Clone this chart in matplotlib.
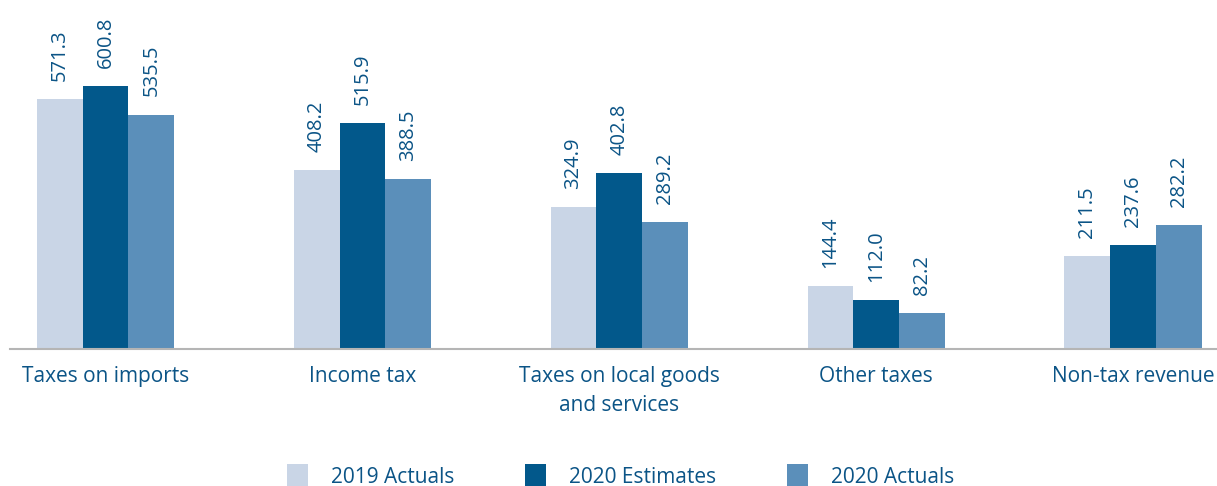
import numpy as np
from matplotlib import pyplot as plt
from matplotlib.patches import Patch

# Data
categories = ['Taxes on imports', 'Income tax', 'Taxes on local goods\nand services',
              'Other taxes', 'Non-tax revenue']
actuals_2019 = [571.3, 408.2, 324.9, 144.4, 211.5]
estimates_2020 = [600.8, 515.9, 402.8, 112.0, 237.6]
actuals_2020 = [535.5, 388.5, 289.2, 82.2, 282.2]
series_names = ['2019 Actuals', '2020 Estimates', '2020 Actuals']

colors = ['#c9d5e6', '#02588b', '#5b8fba']
text_col = '#0b5486'

plt.rcParams['font.family'] = ['Open Sans', 'DejaVu Sans']

fig = plt.figure(figsize=(12.17, 4.86), dpi=100)
ax = fig.add_axes([10/1217, 137/486, 1207/1217, 349/486])

x = np.arange(len(categories))
w = 0.178
series = [actuals_2019, estimates_2020, actuals_2020]
for i, vals in enumerate(series):
    pos = x + (i - 1) * w
    ax.bar(pos, vals, width=w, color=colors[i], zorder=2)
    for p, v in zip(pos, vals):
        ax.annotate('%.1f' % v, (p, v), xytext=(0, 13), textcoords='offset points',
                    rotation=90, ha='center', va='bottom', fontsize=14.5,
                    color=text_col)

ax.set_xlim(-0.372, len(categories) - 1 + 0.327)
ax.set_ylim(0, 797)
ax.set_xticks(x)
ax.set_xticklabels(categories, fontsize=15, color=text_col, linespacing=1.55)
ax.tick_params(axis='x', length=0, pad=12)
ax.set_yticks([])
for s in ['top', 'right', 'left']:
    ax.spines[s].set_visible(False)
ax.spines['bottom'].set_color('#b5b5b5')
ax.spines['bottom'].set_linewidth(1.5)

handles = [Patch(facecolor=c, label=n) for c, n in zip(colors, series_names)]
leg = fig.legend(handles=handles, loc='center', bbox_to_anchor=(0.51, 10/486),
                 ncol=3, frameon=False, fontsize=15, handlelength=1.0,
                 handleheight=1.3, columnspacing=3.4, handletextpad=1.1)
for t in leg.get_texts():
    t.set_color(text_col)

fig.savefig('out.png', dpi=100)
